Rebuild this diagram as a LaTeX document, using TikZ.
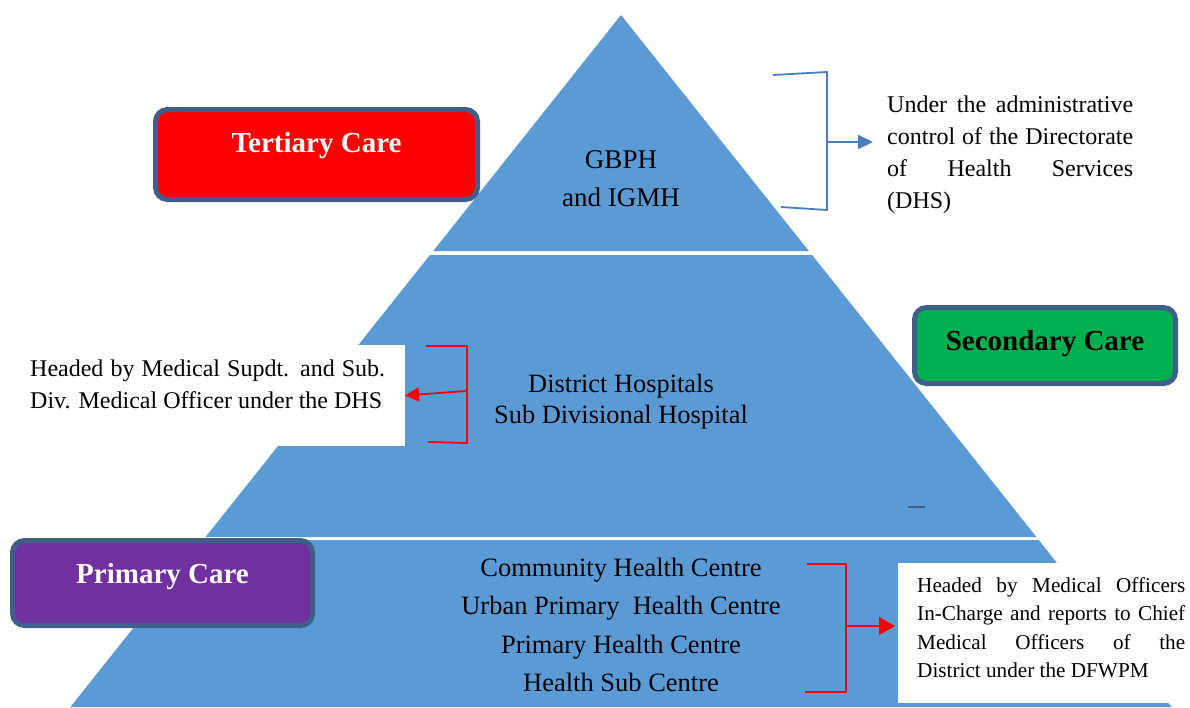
\documentclass[tikz,border=0pt]{standalone}
\usepackage{fontspec}
\setmainfont{Liberation Serif}
\usetikzlibrary{arrows.meta}
\definecolor{pyr}{HTML}{5B9BD5}
\definecolor{bord}{HTML}{3E5F8A}
\definecolor{tred}{HTML}{FF0000}
\definecolor{sgreen}{HTML}{00B050}
\definecolor{ppurple}{HTML}{7030A0}
\definecolor{bbrack}{HTML}{4A7EBB}
\newcommand{\myjl}[2]{\makebox[#1][s]{#2}}
\newcommand{\myfs}[2]{\fontsize{#1}{#2}\selectfont}
\begin{document}
\begin{tikzpicture}[x=1pt,y=-1pt,
  carebox/.style={draw=bord, line width=5pt, rounded corners=12pt, inner sep=0pt, outer sep=0pt, anchor=north west},
  boxlabel/.style={anchor=base, inner sep=0pt, font=\myfs{29}{35}\bfseries},
  tiertext/.style={anchor=base, inner sep=0pt},
  note/.style={anchor=base west, inner sep=0pt},
  whitebox/.style={fill=white, draw=none, inner sep=0pt, outer sep=0pt, anchor=north west},
  redbr/.style={draw=red, line width=1.8pt},
  bluebr/.style={draw=bbrack, line width=1.8pt},
]
\useasboundingbox (0,0) rectangle (1190,707);
\fill[white] (0,0) rectangle (1190,707);

% pyramid tiers
\fill[pyr] (621,15) -- (808.8,251) -- (433.2,251) -- cycle;
\fill[pyr] (429.9,255) -- (812.1,255) -- (1036.4,537) -- (205.6,537) -- cycle;
\fill[pyr] (203.3,540) -- (1038.7,540) -- (1171.6,707) -- (70.4,707) -- cycle;
\draw[bord, line width=1.5pt] (908,507) -- (925,507);

% tier texts
\node[tiertext, font=\myfs{27}{38}] (t1) at (621,168)
  {\vtop{\halign{\hfil#\hfil\cr GBPH\cr and IGMH\cr}}};
\node[tiertext, font=\myfs{26.4}{31}] (t2) at (621,392)
  {\vtop{\halign{\hfil#\hfil\cr District Hospitals\cr Sub Divisional Hospital\cr}}};
\node[tiertext, font=\myfs{26.5}{38.5}] (t3) at (621,576)
  {\vtop{\halign{\hfil#\hfil\cr Community Health Centre\cr Urban Primary\ \ Health Centre\cr Primary Health Centre\cr Health Sub Centre\cr}}};

% white note boxes
\node[whitebox, minimum width=405pt, minimum height=101pt] (midbox) at (0,345) {};
\node[whitebox, minimum width=292pt, minimum height=140pt] (brbox) at (898,563) {};

% care boxes
\node[carebox, fill=tred, minimum width=322pt, minimum height=90pt] (tbox) at (155.5,109.5) {};
\node[carebox, fill=sgreen, minimum width=261pt, minimum height=76pt] (sbox) at (914.5,307.5) {};
\node[carebox, fill=ppurple, minimum width=300pt, minimum height=85pt] (pbox) at (12.5,540.5) {};
\node[boxlabel, text=white] (tlab) at (316.5,152) {Tertiary Care};
\node[boxlabel, text=black] (slab) at (1045,350) {Secondary Care};
\node[boxlabel, text=white] (plab) at (162.5,583) {Primary Care};

% notes
\node[note, font=\myfs{24}{32}] (trnote) at (887,112)
  {\vtop{\hbox{\myjl{246pt}{Under the administrative}}\hbox{\myjl{246pt}{control of the Directorate}}\hbox{\myjl{246pt}{of Health Services}}\hbox{(DHS)}}};
\node[note, font=\myfs{24}{32}] (mlnote) at (30,376)
  {\vtop{\hbox{\myjl{355pt}{Headed by Medical Supdt. and Sub.}}\hbox{Div. Medical Officer under the DHS}}};
\node[note, font=\myfs{21.2}{28.5}] (brnote) at (917,592)
  {\vtop{\hbox{\myjl{268pt}{Headed by Medical Officers}}\hbox{\myjl{268pt}{In-Charge and reports to Chief}}\hbox{\myjl{268pt}{Medical Officers of the}}\hbox{District under the DFWPM}}};

% blue bracket
\coordinate (bt1) at (773,75);
\coordinate (bt2) at (827,72);
\coordinate (bb2) at (827,210);
\coordinate (bb1) at (781,207);
\coordinate (bmid) at (827,142);
\coordinate (btip) at (873,142);
\draw[bluebr] (bt1) -- (bt2) -- (bb2) -- (bb1);
\draw[bluebr, -{Triangle[length=15pt,width=14pt]}] (bmid) -- (btip);

% red bracket (middle)
\coordinate (rt1) at (426,346);
\coordinate (rt2) at (467,346);
\coordinate (rb2) at (467,443);
\coordinate (rb1) at (428,442);
\coordinate (rmid) at (466,391);
\draw[redbr] (rt1) -- (rt2) -- (rb2) -- (rb1);
\draw[redbr, -{Triangle[length=14pt,width=14pt]}] (rmid) -- (midbox.east);

% red bracket (bottom)
\coordinate (qt1) at (807,564);
\coordinate (qt2) at (846,564);
\coordinate (qb2) at (846,692);
\coordinate (qb1) at (805,692);
\coordinate (qmid) at (846,626);
\coordinate (qtip) at (895,626);
\draw[redbr] (qt1) -- (qt2) -- (qb2) -- (qb1);
\draw[redbr, -{Triangle[length=16pt,width=18pt]}] (qmid) -- (qtip);
\end{tikzpicture}
\end{document}
